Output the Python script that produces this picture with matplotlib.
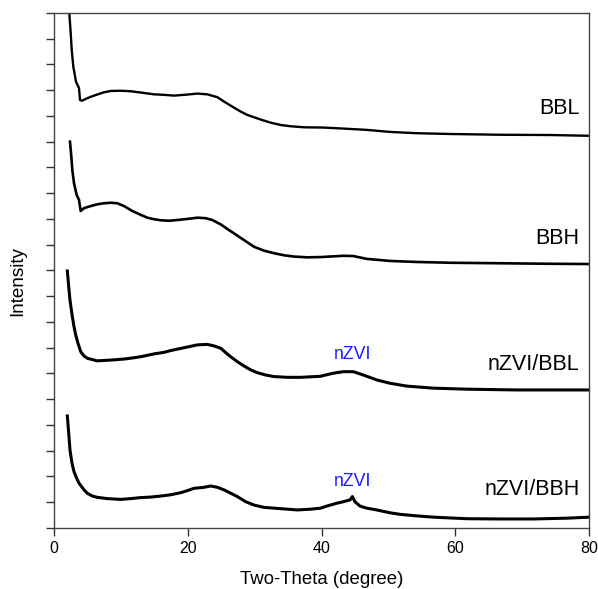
import numpy as np
import matplotlib
matplotlib.use('Agg')
from matplotlib import pyplot as plt

plt.rcParams['font.family'] = ['Liberation Sans', 'DejaVu Sans']

# two-theta / intensity (offset, arbitrary units)
bbl_x = [2.1, 2.29, 2.5, 2.65, 2.89, 3.29, 3.74, 3.89, 4.19, 4.98, 5.98, 7.48, 8.48, 9.97, 11.47, 12.96,
         14.95, 16.45, 17.94, 19.93, 21.43, 22.92, 24.42, 25.42, 26.42, 27.92, 28.91, 29.91, 31.15, 32.4,
         33.9, 35.39, 37.38, 40.27, 43.26, 46.76, 50.24, 54.24, 59.2, 66.7, 74.2, 80.0]
bbl_y = [20.6, 19.99, 19.21, 18.56, 17.91, 17.33, 17.08, 16.62, 16.59, 16.69, 16.79, 16.92, 16.97, 16.98, 16.96, 16.91,
         16.84, 16.82, 16.79, 16.83, 16.87, 16.84, 16.73, 16.56, 16.40, 16.17, 16.04, 15.95, 15.84, 15.74,
         15.65, 15.60, 15.56, 15.55, 15.51, 15.46, 15.38, 15.33, 15.30, 15.27, 15.26, 15.23]

bbh_x = [2.39, 2.59, 2.74, 2.99, 3.39, 3.74, 3.99, 4.49, 5.48, 6.48, 7.48, 8.48, 9.47, 10.47, 11.71, 12.96,
         13.95, 14.95, 15.96, 17.2, 18.44, 19.93, 21.43, 22.68, 23.67, 24.93, 25.92, 26.92, 28.41, 29.91,
         31.4, 32.9, 34.39, 35.89, 37.88, 39.88, 43.26, 44.76, 46.76, 50.24, 54.24, 59.2, 66.69, 74.2, 80.0]
bbh_y = [15.00, 14.42, 13.90, 13.39, 12.93, 12.74, 12.31, 12.42, 12.50, 12.57, 12.61, 12.63, 12.61, 12.50, 12.31, 12.16,
         12.05, 11.99, 11.95, 11.93, 11.96, 12.00, 12.05, 12.03, 11.96, 11.79, 11.61, 11.44, 11.18, 10.92,
         10.77, 10.67, 10.59, 10.54, 10.51, 10.52, 10.57, 10.56, 10.45, 10.37, 10.33, 10.30, 10.28, 10.26, 10.25]

nbbl_x = [1.99, 2.20, 2.39, 2.74, 2.99, 3.24, 3.59, 3.99, 4.49, 4.98, 6.47, 8.48, 10.47, 11.96, 12.96, 14.95,
          16.45, 17.45, 19.44, 21.43, 22.92, 23.93, 24.93, 25.67, 26.42, 27.41, 28.41, 29.41, 30.4, 31.65,
          32.9, 34.89, 36.88, 39.8, 41.76, 43.26, 44.76, 46.25, 48.25, 50.24, 52.74, 56.72, 61.7, 69.2, 80.0]
nbbl_y = [9.98, 9.37, 8.85, 8.21, 7.82, 7.50, 7.17, 6.85, 6.68, 6.59, 6.49, 6.52, 6.56, 6.61, 6.65, 6.76,
          6.82, 6.89, 7.00, 7.11, 7.13, 7.07, 6.98, 6.81, 6.65, 6.46, 6.29, 6.14, 6.03, 5.94,
          5.88, 5.85, 5.85, 5.89, 6.01, 6.07, 6.07, 5.94, 5.75, 5.62, 5.51, 5.43, 5.39, 5.36, 5.36]

nbbh_x = [1.99, 2.20, 2.39, 2.69, 2.99, 3.39, 3.74, 4.49, 4.98, 5.73, 6.47, 7.97, 9.97, 11.46, 12.96, 14.46,
          15.96, 17.45, 18.95, 19.93, 20.93, 22.43, 23.43, 24.42, 25.42, 26.42, 27.41, 28.66, 29.91, 31.4,
          32.9, 34.89, 36.38, 38.38, 39.88, 40.78, 42.27, 43.26, 44.26, 44.61, 45.0, 45.76, 46.76, 48.25,
          50.24, 51.74, 54.24, 56.72, 61.7, 66.69, 71.67, 76.66, 80.0]
nbbh_y = [4.35, 3.68, 3.03, 2.51, 2.19, 1.93, 1.74, 1.48, 1.35, 1.24, 1.19, 1.14, 1.11, 1.14, 1.18, 1.20,
          1.24, 1.29, 1.37, 1.45, 1.54, 1.58, 1.63, 1.58, 1.48, 1.35, 1.22, 1.02, 0.89, 0.80,
          0.77, 0.73, 0.70, 0.73, 0.77, 0.85, 0.96, 1.02, 1.09, 1.22, 1.02, 0.85, 0.77, 0.70,
          0.59, 0.53, 0.47, 0.42, 0.36, 0.35, 0.35, 0.38, 0.42]

names = ['BBL', 'BBH', 'nZVI/BBL', 'nZVI/BBH']
name_y = [16.3, 11.26, 6.33, 1.48]
peak_x = [44.7, 44.6]
peak_y = [6.72, 1.80]

fig = plt.figure(figsize=(5.98, 5.89), dpi=100)
ax = fig.add_axes([0.0903, 0.1036, 0.8947, 0.8744])

ax.plot(bbl_x, bbl_y, color='black', lw=1.7)
ax.plot(bbh_x, bbh_y, color='black', lw=1.9)
ax.plot(nbbl_x, nbbl_y, color='black', lw=2.2)
ax.plot(nbbh_x, nbbh_y, color='black', lw=2.2)

for n, yy in zip(names, name_y):
	ax.text(78.6, yy, n, ha='right', va='center', fontsize=15.5)
for px, py in zip(peak_x, peak_y):
	ax.text(px, py, 'nZVI', ha='center', va='center', fontsize=12.8, color='#1a1aff')

ax.set_xlim(0, 80)
ax.set_ylim(0, 20)
ax.set_xticks([0, 20, 40, 60, 80])
ax.set_yticks(np.arange(0, 21, 1))
ax.set_yticklabels([])
ax.tick_params(direction='out', length=6, width=1, labelsize=11.5, colors='#333333', labelcolor='black')
for s in ax.spines.values():
	s.set_color('#444444')
	s.set_linewidth(1)

ax.set_xlabel('Two-Theta (degree)', fontsize=13.4)
ax.xaxis.set_label_coords(0.5, -0.101)
ax.xaxis.label.set_va('center')
ax.set_ylabel('Intensity', fontsize=13.6)
ax.yaxis.set_label_coords(-0.067, 0.48)
ax.yaxis.label.set_va('center')

fig.savefig('out.png', dpi=100)
